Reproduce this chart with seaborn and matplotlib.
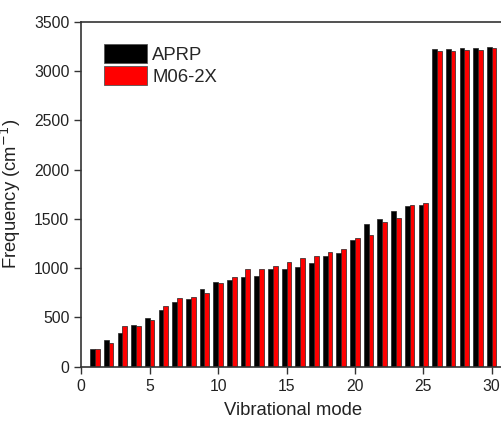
import matplotlib
matplotlib.use("Agg")
import matplotlib.pyplot as plt
import seaborn as sns
import pandas as pd

modes = list(range(1, 31))
aprp = [184, 269, 343, 425, 490, 575, 653, 690, 784, 858,
        881, 911, 925, 989, 996, 1017, 1051, 1125, 1152, 1288,
        1454, 1498, 1579, 1630, 1637, 3223, 3223, 3237, 3237, 3243]
m062x = [177, 241, 411, 411, 473, 612, 697, 704, 747, 850,
         915, 996, 996, 1023, 1061, 1105, 1125, 1166, 1196, 1305,
         1342, 1468, 1508, 1641, 1664, 3203, 3206, 3220, 3220, 3233]
methods = ["APRP", "M06-2X"]
colors = ["#000000", "#ff0000"]

df = pd.DataFrame({
    "mode": modes * 2,
    "freq": aprp + m062x,
    "method": [methods[0]] * len(modes) + [methods[1]] * len(modes),
})

sns.set_style("white")
plt.rcParams["font.family"] = ["Liberation Sans", "DejaVu Sans"]

fig = plt.figure(figsize=(5.01, 4.23), dpi=100)
ax = fig.add_axes([81.3 / 501, (423 - 366.7) / 423, 31 * 13.68 / 501, (366.7 - 22) / 423])

sns.barplot(data=df, x="mode", y="freq", hue="method", native_scale=True,
            palette=colors, width=0.7, edgecolor="#222222", linewidth=0.5,
            saturation=1, ax=ax, legend=True)

ax.set_xlim(0, 31)
ax.set_ylim(0, 3500)
ax.set_xticks([0, 5, 10, 15, 20, 25, 30])
ax.set_yticks(range(0, 3501, 500))
ax.tick_params(axis="both", direction="out", length=5, width=1.0, color="#333333",
               labelsize=11.3, labelcolor="#222222", left=True, bottom=True, top=False, right=False)
for s in ax.spines.values():
    s.set_color("#333333")
    s.set_linewidth(1.2)

ax.set_xlabel("Vibrational mode", fontsize=13.3, color="#222222", labelpad=6)
ax.set_ylabel("Frequency (cm$^{-1}$)", fontsize=13.3, color="#222222", labelpad=8)

leg = ax.legend(loc="upper left", bbox_to_anchor=(22.7 / 424, 1 - 22 / 344.7), frameon=False,
                fontsize=13.3, handlelength=2.32, handleheight=1.2,
                labelspacing=0.15, handletextpad=0.3, borderaxespad=0, borderpad=0)
for h in leg.legend_handles:
    h.set_edgecolor("#555555")
    h.set_linewidth(0.6)

fig.savefig("out.png", dpi=100, facecolor="white")
